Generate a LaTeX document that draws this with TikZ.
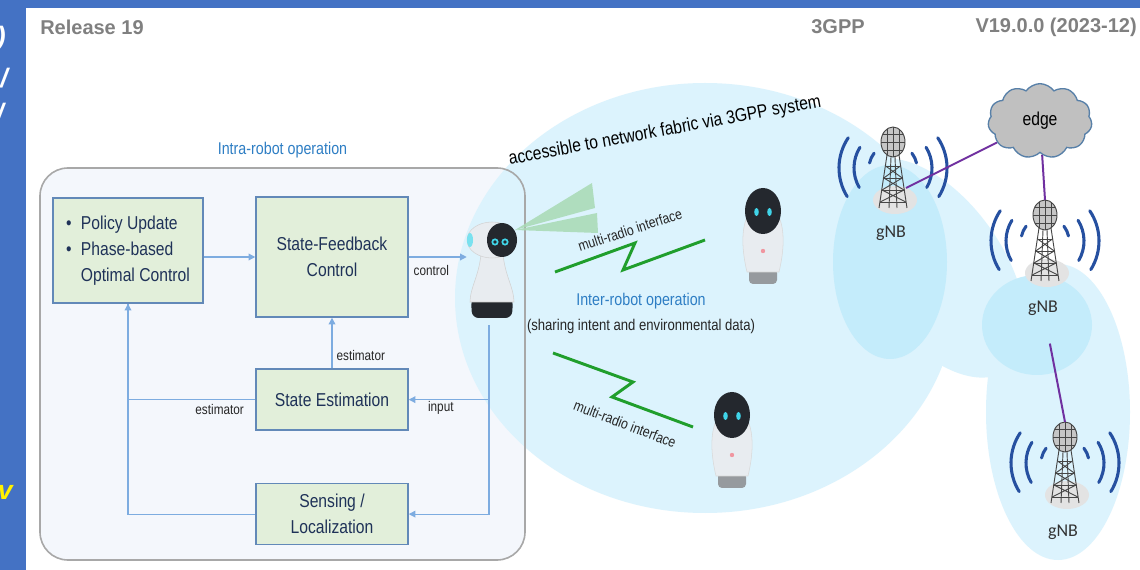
\documentclass[tikz,border=0pt]{standalone}
\usepackage{fontspec}
\setmainfont{Liberation Sans}
\newfontfamily\narrowfont{Liberation Sans}[FakeStretch=0.84]
\newfontfamily\gnbfont{Carlito}
\usetikzlibrary{positioning,calc,shapes.symbols,arrows.meta}

\definecolor{slideblue}{RGB}{68,114,196}
\definecolor{headgray}{RGB}{128,128,128}
\definecolor{titleblue}{RGB}{46,126,196}
\definecolor{boxgreen}{RGB}{226,239,218}
\definecolor{boxedge}{RGB}{98,137,184}
\definecolor{boxtext}{RGB}{31,50,88}
\definecolor{flowblue}{RGB}{125,172,224}
\definecolor{panelfill}{RGB}{244,247,252}
\definecolor{paneledge}{RGB}{168,168,168}
\definecolor{fieldblue}{RGB}{220,243,253}
\definecolor{cellblue}{RGB}{196,236,251}
\definecolor{radiogreen}{RGB}{32,158,44}
\definecolor{beamgreen}{RGB}{168,218,180}
\definecolor{linkpurple}{RGB}{112,48,160}
\definecolor{wavesblue}{RGB}{38,80,160}
\definecolor{botdark}{RGB}{36,40,46}
\definecolor{botshell}{RGB}{232,236,240}
\definecolor{botgray}{RGB}{150,154,158}
\definecolor{boteye}{RGB}{64,212,232}
\definecolor{botpink}{RGB}{240,150,160}
\definecolor{mastgray}{RGB}{70,70,70}
\definecolor{cloudgray}{RGB}{192,192,192}
\definecolor{cloudedge}{RGB}{88,128,168}

\tikzset{
  lattice/.style={draw=mastgray, line width=0.7pt},
  wave/.style={draw=wavesblue, line width=2.3pt, line cap=round},
  % robot turned towards the others
  sidebot/.pic={
    \fill[botdark, rounded corners=5pt] (-21,58) -- (21,58) -- (20,78) -- (-20,78) -- cycle;
    \fill[botshell, draw=gray!35] (-11,14) .. controls (-13,36) and (-22,48) .. (-22,62) -- (22,62) .. controls (22,48) and (13,36) .. (11,14) -- cycle;
    \fill[botshell, draw=gray!35] (0,0) ellipse [x radius=25, y radius=18];
    \fill[botdark] (10,0) ellipse [x radius=15, y radius=17];
    \fill[boteye!70] (-22,0) ellipse [x radius=3, y radius=7];
    \foreach \ex in {3,13} {
      \fill[boteye] (\ex,2) circle [radius=3.6];
      \fill[botdark] (\ex,2) circle [radius=1.8];
    }
  },
  % robot facing front
  tallbot/.pic={
    \fill[botgray, rounded corners=3pt] (-14,58) rectangle (14,73);
    \fill[botshell, draw=gray!30] (-16,6) .. controls (-22,20) and (-21,40) .. (-16,61) -- (16,61) .. controls (21,40) and (22,20) .. (16,6) -- cycle;
    \fill[botdark] (0,0) ellipse [x radius=18, y radius=23];
    \fill[boteye] (-6.5,1) ellipse [x radius=2.3, y radius=4];
    \fill[boteye] (6.5,1) ellipse [x radius=2.3, y radius=4];
    \fill[botpink] (0,40) circle [radius=2.2];
  },
  % gNB mast with its radio waves
  mast/.pic={
    \fill[gray!22] (2,58) ellipse [x radius=22, y radius=14];
    \foreach \r/\a/\b in {24/192/218, 39/150/212, 54/148/214} {
      \draw[wave] ($(0,26)+(\a:\r)$) arc[start angle=\a, end angle=\b, radius=\r];
      \draw[wave] ($(0,26)+(180-\b:\r)$) arc[start angle=180-\b, end angle=180-\a, radius=\r];
    }
    \draw[lattice] (-6,13) -- (-14,66) (6,13) -- (14,66) (-2,15) -- (-4,66) (2,15) -- (4,66);
    \foreach \h/\w in {24/7.4, 36/9.2, 48/11, 60/12.8}
      \draw[lattice] (-\w,\h) -- (\w,\h);
    \draw[lattice] (-7.4,24) -- (9.2,36) -- (-11,48) -- (12.8,60) (7.4,24) -- (-9.2,36) -- (11,48) -- (-12.8,60);
    \draw[lattice, fill=gray!45] (0,0) ellipse [x radius=12, y radius=15];
    \draw[lattice] (-12,0) -- (12,0) (0,-15) -- (0,15) (-6,-13) -- (-6,13) (6,-13) -- (6,13) (-10,-8) -- (10,-8) (-10,8) -- (10,8);
    \coordinate (-top) at (0,-15);
    \coordinate (-mid) at (13,46);
  }
}

\begin{document}
\begin{tikzpicture}[x=0.75pt, y=-0.75pt,
    headtext/.style={font=\bfseries\fontsize{15}{18}\selectfont, text=headgray, inner sep=0pt},
    fragment/.style={font=\bfseries\itshape\fontsize{20}{22}\selectfont, text=white, inner sep=0pt},
    block/.style={draw=boxedge, line width=1.1pt, fill=boxgreen, text=boxtext, align=center,
        minimum width=114pt, font=\narrowfont\fontsize{14}{19.5}\selectfont},
    flow/.style={draw=flowblue, line width=0.9pt, -{Triangle[length=5pt, width=5pt]}},
    flowline/.style={draw=flowblue, line width=0.9pt},
    tag/.style={font=\narrowfont\fontsize{10.5}{12}\selectfont, text=black!85, inner sep=1pt},
    caption/.style={font=\narrowfont\fontsize{12.75}{15}\selectfont, text=titleblue},
    radiotext/.style={font=\narrowfont\fontsize{11}{13}\selectfont, text=black!85, inner sep=1pt},
    radio/.style={draw=radiogreen, line width=2.2pt},
    beam/.style={fill=beamgreen, fill opacity=0.85},
    link/.style={draw=linkpurple, line width=1.5pt},
    gnb/.style={font=\gnbfont\fontsize{13.5}{15}\selectfont, text=black!80}
  ]
  \useasboundingbox (0,0) rectangle (1140,570);
  \fill[white] (0,0) rectangle (1140,570);
  \fill[slideblue] (0,0) rectangle (1140,8);
  \fill[slideblue] (0,0) rectangle (26,570);
  \node[fragment, anchor=east] at (6,39) {)};
  \node[fragment, anchor=east] at (8,78) {/};
  \node[fragment, anchor=east] at (4,113) {/};
  \node[fragment, anchor=east, text=yellow] at (13,492) {v};

  \node (release) [headtext, anchor=west] at (40,27) {Release 19};
  \node (org) [headtext] at (838,27) {3GPP};
  \node (version) [headtext, anchor=east] at (1137,27) {V19.0.0 (2023-12)};

  % coverage areas
  \fill[panelfill, rounded corners=21pt] (40,168) rectangle (525,560);
  \fill[fieldblue] (705,298) ellipse [x radius=250, y radius=215];
  \fill[fieldblue, rotate around={-55:(935,268)}] (935,268) ellipse [x radius=125, y radius=68];
  \fill[fieldblue] (1058,412) ellipse [x radius=72, y radius=148];
  \fill[cellblue] (890,262) ellipse [x radius=57, y radius=97];
  \fill[cellblue] (1037,325) ellipse [x radius=55, y radius=50];

  % intra-robot loop
  \node (intra) [draw=paneledge, line width=1.2pt, rounded corners=21pt, minimum width=363.75pt, minimum height=294pt] at (282.5,364) {};
  \node (intratitle) [caption, above=3pt of intra] {Intra-robot operation};

  \node (policy) [block, minimum width=112.5pt, minimum height=78.75pt] at (128,250.5) {%
    \begin{tabular}{@{}l@{\hspace{7pt}}l@{}}\textbullet & Policy Update\\ \textbullet & Phase-based\\ & Optimal Control\end{tabular}};
  \node (feedback) [block, minimum height=90pt] at (332,257) {State-Feedback\\Control};
  \node (estim) [block, minimum height=45.75pt, below=38pt of feedback] {State Estimation};
  \node (sensing) [block, minimum height=45.75pt, below=39pt of estim] {Sensing /\\Localization};
  \node (botA) [inner sep=0pt, minimum width=33pt, minimum height=102pt] at (489,257) {};

  \draw [flow] (policy.east |- feedback.west) -- (feedback.west);
  \draw [flow] (feedback) -- node[tag, below, pos=0.39, yshift=-5pt] {control} (botA);
  \draw [flow] (botA.south) |- node[tag, below, pos=0.8] {input} (estim.east);
  \draw [flow] (botA.south) |- (sensing.east);
  \draw [flow] (estim) -- node[tag, right, pos=0.25, xshift=2pt] {estimator} (feedback);
  \draw [flowline] (sensing.west) -| (policy.south);
  \draw [flow] (estim.west) -| node[tag, below, pos=0.14, yshift=-2pt] {estimator} (policy.south);

  % robots and radio links
  \fill[beam] (515,230) -- (592,183) -- (595,208) -- cycle;
  \fill[beam] (515,230) -- (597,213) -- (598,233) -- cycle;
  \pic (botone) at (492,240) {sidebot};
  \pic (bottwo) at (763,211) {tallbot};
  \pic (botthree) at (732,415) {tallbot};

  \node (fabric) [rotate=10.5, font=\narrowfont\fontsize{14}{16}\selectfont] at (665,131) {accessible to network fabric via 3GPP system};
  \draw [radio] (555,272) -- (635,243) -- (623,270) -- (705,240);
  \draw [radio] (553,353) -- (633,382) -- (612,397) -- (693,427);
  \node (radioA) [radiotext, rotate=18] at (630,230) {multi-radio interface};
  \node (radioB) [radiotext, rotate=-21] at (625,424) {multi-radio interface};
  \node (inter) [caption] at (641,301) {Inter-robot operation};
  \node (share) [radiotext, font=\narrowfont\fontsize{11.7}{13}\selectfont, below=3pt of inter] {(sharing intent and environmental data)};

  % network side
  \pic (gnbA) at (893,142) {mast};
  \pic (gnbB) at (1045,215) {mast};
  \pic (gnbC) at (1065,437) {mast};
  \node (lblA) [gnb] at (891,233) {gNB};
  \node (lblB) [gnb] at (1043,308) {gNB};
  \node (lblC) [gnb] at (1063,532) {gNB};
  \node (edge) [cloud, cloud puffs=11, cloud puff arc=110, aspect=1.4, draw=cloudedge, fill=cloudgray, line width=1pt,
      minimum width=78pt, minimum height=56pt, font=\narrowfont\fontsize{14}{16}\selectfont] at (1040,121) {edge};

  \draw [link] (gnbA-mid) -- (edge);
  \draw [link] (edge) -- (gnbB-top);
  \draw [link, shorten <=18pt] (lblB) -- (gnbC-top);
\end{tikzpicture}
\end{document}
